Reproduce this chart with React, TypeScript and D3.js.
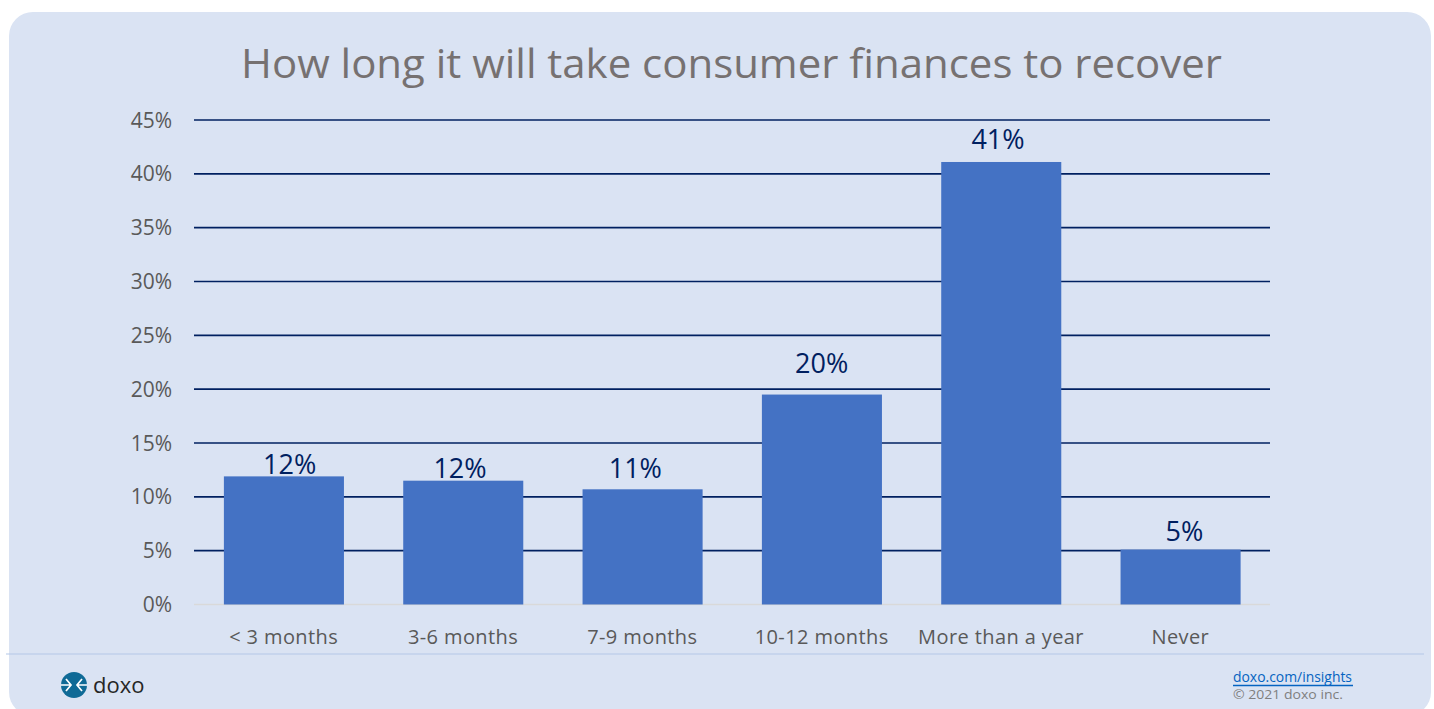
import React from "react";
import * as d3 from "d3";

const titleText = "How long it will take consumer finances to recover";
const categories = ["< 3 months", "3-6 months", "7-9 months", "10-12 months", "More than a year", "Never"];
const values = [11.9, 11.5, 10.7, 19.5, 41.1, 5.1];
const valueLabels = ["12%", "12%", "11%", "20%", "41%", "5%"];
const yTicks = [0, 5, 10, 15, 20, 25, 30, 35, 40, 45];

// Manual data-label placement seen in the reference (offset from bar centre / bar top, px)
const labelDx = [6, -3, -7, 0, -3, 4];
const labelDy = [-2, -3, -11, -22, -13, -9];

const FONT = "'Open Sans', 'Noto Sans', sans-serif";

export default function App() {
  const x = d3.scaleBand<string>().domain(categories).range([194, 1270]).paddingInner(1 / 3).paddingOuter(1 / 6);
  const y = d3.scaleLinear().domain([0, 45]).range([604.5, 120]);
  return (
    <svg width={1434} height={709} viewBox="0 0 1434 709" style={{ position: "absolute", left: 0, top: 0, display: "block" }} fontFamily={FONT}>
      <rect x={0} y={0} width={1434} height={709} fill="#ffffff" />
      <rect x={9} y={12} width={1422} height={704} rx={24} ry={24} fill="#dae3f3" />
      <text x={731.5} y={78} textAnchor="middle" fontSize={40} fill="#767171" textLength={981} lengthAdjust="spacingAndGlyphs">{titleText}</text>
      {yTicks.map((t) => (
        <g key={t}>
          {t > 0 ? (
            <line x1={194} x2={1270} y1={y(t)} y2={y(t)} stroke="#002060" strokeWidth={1.7} />
          ) : (
            <line x1={194} x2={1270} y1={y(t)} y2={y(t)} stroke="#d9d9d9" strokeWidth={1.5} />
          )}
          <text x={172} y={y(t) + 7.5} textAnchor="end" fontSize={21} fill="#595959">{`${t}%`}</text>
        </g>
      ))}
      {categories.map((c, i) => (
        <g key={c}>
          <rect x={x(c)} y={y(values[i])} width={x.bandwidth() + 0.5} height={y(0) - y(values[i])} fill="#4472c4" />
          <text x={x(c)! + x.bandwidth() / 2 + labelDx[i]} y={y(values[i]) + labelDy[i]} textAnchor="middle" fontSize={27} fill="#002060">{valueLabels[i]}</text>
          <text x={x(c)! + x.bandwidth() / 2} y={644} textAnchor="middle" fontSize={20} letterSpacing={0.4} fill="#595959">{c}</text>
        </g>
      ))}
      <line x1={6} x2={1424} y1={654} y2={654} stroke="#b4c7e7" strokeWidth={1.2} />
      <g>
        <circle cx={74} cy={685} r={13} fill="#0f6a96" />
        <g stroke="#ffffff" strokeWidth={1.7} fill="none">
          <path d="M61 685 H70 M66 679 L71 685 L66 691" />
          <path d="M87 685 H78 M82 679 L77 685 L82 691" />
        </g>
        <text x={93} y={693} fontSize={22} fill="#262626">doxo</text>
      </g>
      <text x={1233} y={682} fontSize={14.5} fill="#0563c1" textLength={119} lengthAdjust="spacingAndGlyphs">doxo.com/insights</text>
      <line x1={1233} x2={1353} y1={685.5} y2={685.5} stroke="#0563c1" strokeWidth={1.6} />
      <text x={1233} y={699} fontSize={13.5} fill="#7f7f7f" textLength={110} lengthAdjust="spacingAndGlyphs">© 2021 doxo inc.</text>
    </svg>
  );
}
